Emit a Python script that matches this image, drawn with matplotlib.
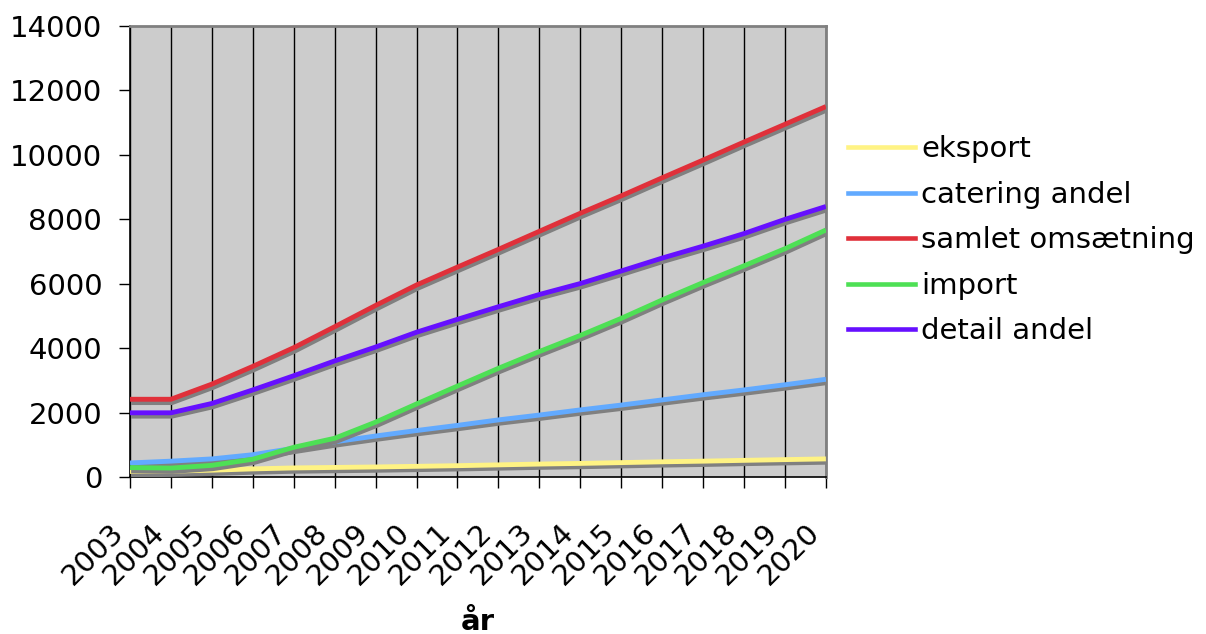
import matplotlib
matplotlib.use('Agg')
import matplotlib.pyplot as plt
import matplotlib.patheffects as pe
from matplotlib.transforms import ScaledTranslation

plt.rcParams['font.family'] = ['DejaVu Sans']

# ── data ──────────────────────────────────────────────────────────────────
years = [str(y) for y in range(2003, 2021)]
eksport  = [180, 190, 220, 260, 290, 305, 320, 340, 360, 385, 410, 430,
            455, 480, 500, 525, 548, 570]
catering = [445, 500, 570, 700, 900, 1100, 1280, 1450, 1610, 1780, 1930,
            2090, 2240, 2400, 2560, 2710, 2870, 3040]
samlet   = [2420, 2420, 2890, 3440, 4020, 4670, 5330, 5965, 6520, 7070,
            7630, 8190, 8730, 9290, 9840, 10400, 10950, 11500]
importv  = [300, 285, 370, 560, 930, 1210, 1710, 2275, 2830, 3380, 3900,
            4400, 4930, 5500, 6040, 6560, 7090, 7670]
detail   = [2000, 2000, 2290, 2710, 3150, 3610, 4040, 4500, 4900, 5290,
            5670, 6010, 6400, 6800, 7170, 7560, 8000, 8400]

series = [
    ('eksport',          eksport,  '#FFF384'),
    ('catering andel',   catering, '#62AAFF'),
    ('samlet omsætning', samlet,   '#E0303A'),
    ('import',           importv,  '#4EE055'),
    ('detail andel',     detail,   '#6610FF'),
]

FS = 21

fig = plt.figure(figsize=(12.06, 6.34), dpi=100)
ax = fig.add_axes([0.1078, 0.2472, 0.577, 0.7118])
ax.set_facecolor('#CCCCCC')

x = list(range(len(years)))
for label, vals, col in series:
    ax.plot(x, vals, color=col, lw=3.5, label=label,
            solid_joinstyle='round', solid_capstyle='butt', zorder=3,
            path_effects=[pe.SimpleLineShadow(offset=(0.8, -2.4),
                                              shadow_color='#808080',
                                              alpha=1.0),
                          pe.Normal()])

ax.set_xlim(0, len(years) - 1)
ax.set_ylim(0, 14000)
ax.set_yticks(range(0, 14001, 2000))
ax.set_xticks(x)
ax.set_xticklabels(years, rotation=45, ha='right', va='center',
                   rotation_mode='anchor')
ax.tick_params(axis='both', labelsize=FS, length=8, width=1, color='black',
               direction='out')
ax.tick_params(axis='y', pad=12)
ax.tick_params(axis='x', pad=22)
# nudge rotated year labels a little down-left like the original
shift = ScaledTranslation(-0.11, -0.09, fig.dpi_scale_trans)
for t in ax.get_xticklabels():
    t.set_transform(t.get_transform() + shift)

ax.grid(axis='x', color='black', lw=1.0, zorder=1)
ax.set_axisbelow(True)

for s in ['left', 'bottom']:
    ax.spines[s].set_color('black')
    ax.spines[s].set_linewidth(1.2)
for s in ['top', 'right']:
    ax.spines[s].set_color('#808080')
    ax.spines[s].set_linewidth(2)

ax.set_xlabel('år', fontsize=FS, fontweight='bold', va='top')
ax.xaxis.set_label_coords(0.5, -0.29)

# legend (no shadows on handles)
leg_lines = [plt.Line2D([], [], color=c, lw=3.3) for _, _, c in series]
fig.legend(leg_lines, [s[0] for s in series], loc='center left',
           bbox_to_anchor=(848 / 1206, 0.621), frameon=False, fontsize=FS,
           handlelength=2.3, handletextpad=0.2, labelspacing=0.6,
           borderpad=0, borderaxespad=0)

fig.savefig('out.png', dpi=100)
